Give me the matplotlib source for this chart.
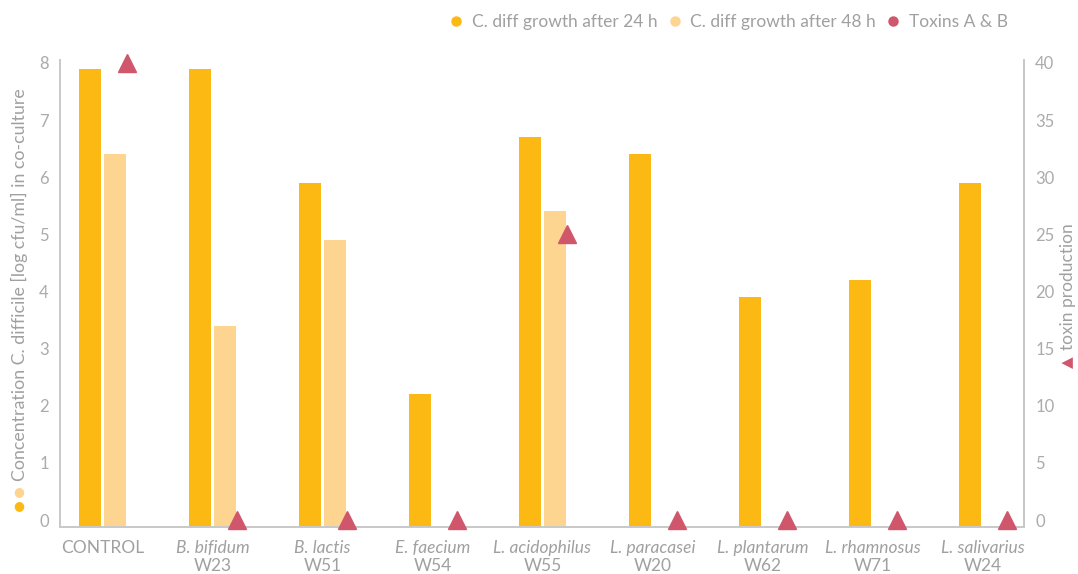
import matplotlib
matplotlib.use("Agg")
import matplotlib.pyplot as plt
from matplotlib.lines import Line2D
from matplotlib import font_manager
import numpy as np

species = ["CONTROL", "B. bifidum", "B. lactis", "E. faecium", "L. acidophilus",
           "L. paracasei", "L. plantarum", "L. rhamnosus", "L. salivarius"]
strains = ["", "W23", "W51", "W54", "W55", "W20", "W62", "W71", "W24"]
growth_24h = [7.9, 7.9, 5.9, 2.2, 6.7, 6.4, 3.9, 4.2, 5.9]
growth_48h = [6.4, 3.4, 4.9, 0.0, 5.4, 0.0, 0.0, 0.0, 0.0]
toxins = [40, 0, 0, 0, 25, 0, 0, 0, 0]

C24 = "#FDB913"
C48 = "#FDD590"
CTOX = "#D0566C"
TXT = "#a0a0a0"
TICK = "#ababab"
SPINE = "#c9c9c9"

fams = {f.name for f in font_manager.fontManager.ttflist}
FONT = "Lato" if "Lato" in fams else "DejaVu Sans"
plt.rcParams["font.family"] = [FONT, "DejaVu Sans"]

fig = plt.figure(figsize=(10.78, 5.74), dpi=100)
ax = fig.add_axes([60 / 1078, 1 - 527 / 574, (1024 - 60) / 1078, (527 - 60) / 574])
ax2 = ax.twinx()

x = np.arange(len(species))
ymin, ymax = -0.12, 8.05
w = 0.2
g24 = np.array(growth_24h)
g48 = np.array(growth_48h)
ax.bar(x - 0.015 - w / 2, g24 - ymin, bottom=ymin, width=w, color=C24, zorder=2)
mask = g48 > 0
ax.bar(x[mask] + 0.015 + w / 2, g48[mask] - ymin, bottom=ymin, width=w, color=C48, zorder=2)
ax.set_ylim(ymin, ymax)
ax.set_xlim(-0.386, 8.377)
ax2.set_ylim(ymin * 5, ymax * 5)
ax2.plot(x + 0.225, toxins, linestyle="none", marker="^", markersize=13.5,
         color=CTOX, zorder=3, clip_on=False)

ax.set_yticks(range(0, 9))
ax2.set_yticks(range(0, 41, 5))
for a in (ax, ax2):
    a.tick_params(axis="y", length=0, labelsize=12, labelcolor=TICK, pad=8)
    for s in a.spines.values():
        s.set_color(SPINE)
        s.set_linewidth(1.3)
    a.spines["top"].set_visible(False)
ax.tick_params(axis="x", length=0)
ax.set_xticks(x)
ax.set_xticklabels([""] * len(x))

FS = 12.5
trans = ax.get_xaxis_transform()
for i, (sp, st) in enumerate(zip(species, strains)):
    if st:
        ax.text(i, -0.045, sp, transform=trans, ha="center", va="center",
                fontsize=FS, color=TXT, style="italic")
        ax.text(i, -0.083, st, transform=trans, ha="center", va="center",
                fontsize=FS, color=TXT)
    else:
        ax.text(i, -0.045, sp, transform=trans, ha="center", va="center",
                fontsize=FS, color=TXT)

# left axis label with dots
fig.text(19 / 1078, 1 - 506 / 574, "\u25CF", color=C24, fontsize=9, ha="center", va="center",
         family=["DejaVu Sans"], fontweight="normal")
fig.text(19 / 1078, 1 - 492 / 574, "\u25CF", color=C48, fontsize=9, ha="center", va="center",
         family=["DejaVu Sans"], fontweight="normal")
fig.text(19 / 1078, 1 - 481 / 574, "Concentration C. difficile [log cfu/ml] in co-culture",
         rotation=90, rotation_mode="anchor", ha="left", va="center",
         fontsize=12.8, color=TXT)

# right axis label
fig.text(1068 / 1078, 1 - 362 / 574, "\u25B2", color=CTOX, fontsize=11, rotation=90,
         ha="center", va="center", family=["DejaVu Sans"], fontweight="normal")
fig.text(1068 / 1078, 1 - 350 / 574, "toxin production", rotation=90, rotation_mode="anchor",
         ha="left", va="center", fontsize=12.5, color=TXT)

handles = [Line2D([], [], linestyle="none", marker="o", markersize=6.5, color=c)
           for c in (C24, C48, CTOX)]
leg = fig.legend(handles, ["C. diff growth after 24 h", "C. diff growth after 48 h", "Toxins A & B"],
                 loc="center right", bbox_to_anchor=(1008 / 1078, 1 - 22 / 574), ncol=3,
                 frameon=False, fontsize=12.5, handlelength=0.8, handletextpad=0.5,
                 columnspacing=0.6, borderpad=0, borderaxespad=0)
for t in leg.get_texts():
    t.set_color(TXT)

fig.savefig("out.png", dpi=100)
